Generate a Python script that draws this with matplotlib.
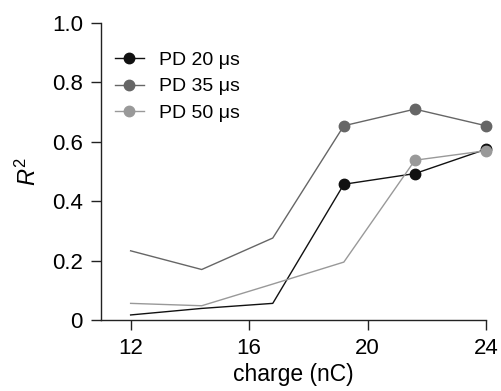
import matplotlib
matplotlib.use("Agg")
import matplotlib.pyplot as plt

plt.rcParams['font.family'] = ['Liberation Sans', 'DejaVu Sans']
plt.rcParams['mathtext.fontset'] = 'custom'
plt.rcParams['mathtext.rm'] = 'Liberation Sans'
plt.rcParams['mathtext.it'] = 'Liberation Sans:italic'

charge = [12, 14.4, 16.8, 19.2, 21.6, 24]
pd20 = [0.017, 0.039, 0.056, 0.457, 0.493, 0.575]
pd35 = [0.233, 0.170, 0.276, 0.654, 0.710, 0.654]
pd50 = [0.056, 0.048, 0.121, 0.195, 0.538, 0.570]
labels = ['PD 20 μs', 'PD 35 μs', 'PD 50 μs']
colors = ['#111111', '#666666', '#999999']
marker_start = [3, 3, 4]  # index of first point drawn with a marker

fig = plt.figure(figsize=(5.02, 3.91), dpi=100)
ax = fig.add_axes([101/502, 1-320/391, (486-101)/502, (320-23)/391])

for ys, lab, c, m0 in zip([pd20, pd35, pd50], labels, colors, marker_start):
    ax.plot(charge, ys, color=c, lw=1.0, clip_on=False, zorder=2)
    ax.plot(charge[m0:], ys[m0:], 'o', color=c, ms=7.5,
            clip_on=False, zorder=3)
    ax.plot([], [], '-o', color=c, lw=1.0, ms=7.5, label=lab)

ax.set_xlim(11, 24)
ax.set_ylim(0, 1.0)
ax.set_xticks([12, 16, 20, 24])
ax.set_yticks([0, 0.2, 0.4, 0.6, 0.8, 1.0])
ax.set_yticklabels(['0', '0.2', '0.4', '0.6', '0.8', '1.0'])
for s in ['top', 'right']:
    ax.spines[s].set_visible(False)
for s in ['left', 'bottom']:
    ax.spines[s].set_linewidth(1.0)
    ax.spines[s].set_color('#222222')
ax.tick_params(axis='both', labelsize=16, length=7, width=1.0, color='#222222', pad=6)
ax.set_xlabel('charge (nC)', fontsize=16.5, labelpad=3)
ax.set_ylabel(r'$R^2$', fontsize=17, labelpad=8)

ax.legend(loc='upper left', bbox_to_anchor=(0.0, 0.95), frameon=False,
          fontsize=14, handlelength=1.5, handletextpad=0.8, labelspacing=0.45,
          borderaxespad=0.3)

fig.savefig('out.png', dpi=100)
